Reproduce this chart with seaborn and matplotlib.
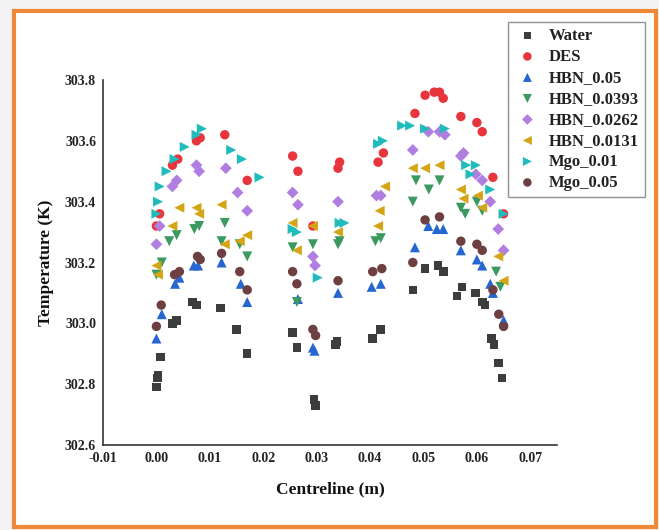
import numpy as np
import pandas as pd
import matplotlib
matplotlib.use("Agg")
import matplotlib.pyplot as plt
import seaborn as sns
from matplotlib.patches import Rectangle

# ---------------- data ----------------
series_names = ["Water", "DES", "HBN_0.05", "HBN_0.0393", "HBN_0.0262",
                "HBN_0.0131", "Mgo_0.01", "Mgo_0.05"]

water_x = [0.0000, 0.0002, 0.0003, 0.0008, 0.0030, 0.0038, 0.0068, 0.0075, 0.0120, 0.0150, 0.0170,
           0.0255, 0.0263, 0.0295, 0.0298, 0.0335, 0.0338, 0.0405, 0.0420,
           0.0480, 0.0503, 0.0527, 0.0537, 0.0563, 0.0572, 0.0597, 0.0610, 0.0615, 0.0627, 0.0632, 0.0640, 0.0647]
water_y = [302.79, 302.82, 302.83, 302.89, 303.00, 303.01, 303.07, 303.06, 303.05, 302.98, 302.90,
           302.97, 302.92, 302.75, 302.73, 302.93, 302.94, 302.95, 302.98,
           303.11, 303.18, 303.19, 303.17, 303.09, 303.12, 303.10, 303.07, 303.06, 302.95, 302.93, 302.87, 302.82]

des_x = [0.0000, 0.0006, 0.0030, 0.0040, 0.0075, 0.0082, 0.0128, 0.0170,
         0.0255, 0.0265, 0.0293, 0.0340, 0.0343, 0.0415, 0.0425,
         0.0484, 0.0503, 0.0520, 0.0530, 0.0537, 0.0570, 0.0600, 0.0610, 0.0630, 0.0650]
des_y = [303.32, 303.36, 303.52, 303.54, 303.60, 303.61, 303.62, 303.47,
         303.55, 303.50, 303.32, 303.51, 303.53, 303.53, 303.56,
         303.69, 303.75, 303.76, 303.76, 303.74, 303.68, 303.66, 303.63, 303.48, 303.36]

hbn005_x = [0.0000, 0.0010, 0.0035, 0.0043, 0.0070, 0.0078, 0.0122, 0.0158, 0.0170,
            0.0265, 0.0293, 0.0296, 0.0340, 0.0403, 0.0420,
            0.0484, 0.0509, 0.0525, 0.0537, 0.0570, 0.0600, 0.0610, 0.0625, 0.0630, 0.0650]
hbn005_y = [302.95, 303.03, 303.13, 303.15, 303.19, 303.19, 303.20, 303.13, 303.07,
            303.08, 302.92, 302.91, 303.10, 303.12, 303.13,
            303.25, 303.32, 303.31, 303.31, 303.24, 303.21, 303.19, 303.13, 303.10, 303.01]

hbn0393_x = [0.0000, 0.0010, 0.0024, 0.0038, 0.0071, 0.0080, 0.0122, 0.0128, 0.0156, 0.0170,
             0.0255, 0.0263, 0.0293, 0.0340, 0.0343, 0.0410, 0.0420,
             0.0480, 0.0486, 0.0510, 0.0530, 0.0570, 0.0578, 0.0600, 0.0610, 0.0636, 0.0644]
hbn0393_y = [303.16, 303.20, 303.27, 303.29, 303.31, 303.32, 303.27, 303.33, 303.26, 303.22,
             303.25, 303.07, 303.26, 303.26, 303.27, 303.27, 303.28,
             303.40, 303.47, 303.44, 303.47, 303.38, 303.36, 303.40, 303.37, 303.17, 303.12]

hbn0262_x = [0.0000, 0.0006, 0.0030, 0.0038, 0.0075, 0.0080, 0.0130, 0.0152, 0.0170,
             0.0255, 0.0265, 0.0293, 0.0297, 0.0340, 0.0412, 0.0420,
             0.0480, 0.0509, 0.0530, 0.0540, 0.0570, 0.0575, 0.0598, 0.0610, 0.0625, 0.0640, 0.0650]
hbn0262_y = [303.26, 303.32, 303.45, 303.47, 303.52, 303.50, 303.51, 303.43, 303.37,
             303.43, 303.39, 303.22, 303.19, 303.40, 303.42, 303.42,
             303.57, 303.63, 303.63, 303.62, 303.55, 303.56, 303.49, 303.47, 303.40, 303.31, 303.24]

hbn0131_x = [0.0000, 0.0003, 0.0030, 0.0043, 0.0075, 0.0080, 0.0122, 0.0128, 0.0156, 0.0170,
             0.0255, 0.0263, 0.0293, 0.0340, 0.0415, 0.0418, 0.0428,
             0.0480, 0.0503, 0.0530, 0.0570, 0.0575, 0.0602, 0.0610, 0.0640, 0.0650]
hbn0131_y = [303.19, 303.16, 303.32, 303.38, 303.38, 303.36, 303.39, 303.26, 303.27, 303.29,
             303.33, 303.24, 303.32, 303.30, 303.32, 303.37, 303.45,
             303.51, 303.51, 303.52, 303.44, 303.41, 303.42, 303.38, 303.22, 303.14]

mgo001_x = [0.0000, 0.0003, 0.0006, 0.0019, 0.0034, 0.0053, 0.0075, 0.0085, 0.0140, 0.0160, 0.0193,
            0.0255, 0.0263, 0.0302, 0.0343, 0.0352, 0.0415, 0.0424,
            0.0460, 0.0475, 0.0503, 0.0540, 0.0580, 0.0588, 0.0598, 0.0625, 0.0650]
mgo001_y = [303.36, 303.40, 303.45, 303.50, 303.54, 303.58, 303.62, 303.64, 303.57, 303.54, 303.48,
            303.31, 303.30, 303.15, 303.33, 303.33, 303.59, 303.60,
            303.65, 303.65, 303.64, 303.64, 303.52, 303.49, 303.52, 303.44, 303.36]

mgo005_x = [0.0000, 0.0009, 0.0034, 0.0043, 0.0077, 0.0082, 0.0122, 0.0156, 0.0170,
            0.0255, 0.0263, 0.0293, 0.0298, 0.0340, 0.0405, 0.0422,
            0.0480, 0.0503, 0.0530, 0.0570, 0.0600, 0.0610, 0.0630, 0.0641, 0.0650]
mgo005_y = [302.99, 303.06, 303.16, 303.17, 303.22, 303.21, 303.23, 303.17, 303.11,
            303.17, 303.13, 302.98, 302.96, 303.14, 303.17, 303.18,
            303.20, 303.34, 303.35, 303.27, 303.26, 303.24, 303.11, 303.03, 302.99]

x_ticks = [-0.01, 0.00, 0.01, 0.02, 0.03, 0.04, 0.05, 0.06, 0.07]
y_ticks = [302.6, 302.8, 303.0, 303.2, 303.4, 303.6, 303.8]

xs = [water_x, des_x, hbn005_x, hbn0393_x, hbn0262_x, hbn0131_x, mgo001_x, mgo005_x]
ys = [water_y, des_y, hbn005_y, hbn0393_y, hbn0262_y, hbn0131_y, mgo001_y, mgo005_y]

frames = []
for name, x, y in zip(series_names, xs, ys):
    frames.append(pd.DataFrame({"x": x, "y": y, "Series": name}))
df = pd.concat(frames, ignore_index=True)

palette = {"Water": "#3d3d3d", "DES": "#e8343c", "HBN_0.05": "#2566d0",
           "HBN_0.0393": "#3c9a60", "HBN_0.0262": "#b07ee0", "HBN_0.0131": "#d4a516",
           "Mgo_0.01": "#20bcbc", "Mgo_0.05": "#6e3f40"}
markers = {"Water": "s", "DES": "o", "HBN_0.05": "^", "HBN_0.0393": "v",
           "HBN_0.0262": "D", "HBN_0.0131": "<", "Mgo_0.01": ">", "Mgo_0.05": "o"}
sizes_pt = {"Water": 38, "DES": 46, "HBN_0.05": 52, "HBN_0.0393": 52,
            "HBN_0.0262": 36, "HBN_0.0131": 52, "Mgo_0.01": 52, "Mgo_0.05": 46}

# ---------------- figure ----------------
sns.set_theme(style="white")
plt.rcParams["font.family"] = ["Liberation Serif", "DejaVu Serif"]
plt.rcParams["font.weight"] = "bold"

W, H = 659, 530
fig = plt.figure(figsize=(W / 100, H / 100), dpi=100, facecolor="#f3f3f3")

bg = fig.add_axes([0, 0, 1, 1], zorder=-5)
bg.set_xlim(0, W)
bg.set_ylim(H, 0)
bg.axis("off")
bg.add_patch(Rectangle((14, 11), 656 - 14, 527 - 11, facecolor="white",
                       edgecolor="#f0883a", linewidth=3.0))

ax = fig.add_axes([103 / W, 1 - 445 / H, (557 - 103) / W, (445 - 80) / H], zorder=2)
ax.set_facecolor("none")

for name in series_names:
    sub = df[df["Series"] == name]
    sns.scatterplot(data=sub, x="x", y="y", ax=ax, color=palette[name],
                    marker=markers[name], s=sizes_pt[name], linewidth=0,
                    edgecolor="none", label=name, zorder=3)

ax.set_xlim(-0.01, 0.075)
ax.set_ylim(302.6, 303.8)
ax.set_xticks(x_ticks)
ax.set_xticklabels([f"{v:.2f}" for v in x_ticks])
ax.set_yticks(y_ticks)
ax.set_yticklabels([f"{v:.1f}" for v in y_ticks])
ax.tick_params(axis="both", direction="in", length=4, width=1, labelsize=10,
               colors="#222222", pad=5)
for lab in ax.get_xticklabels() + ax.get_yticklabels():
    lab.set_fontweight("bold")

for sp in ["top", "right"]:
    ax.spines[sp].set_visible(False)
for sp in ["left", "bottom"]:
    ax.spines[sp].set_color("#333333")
    ax.spines[sp].set_linewidth(1.2)

ax.set_xlabel("Centreline (m)", fontsize=12.5, fontweight="bold", color="#111111", labelpad=12)
ax.set_ylabel("Temperature (K)", fontsize=12.5, fontweight="bold", color="#111111", labelpad=8)

leg = ax.legend(loc="upper right", bbox_to_anchor=(645 / W, 1 - 22 / H),
                bbox_transform=fig.transFigure, frameon=True, fancybox=False,
                borderaxespad=0, fontsize=12, labelspacing=0.30, handletextpad=0.5,
                borderpad=0.35, markerscale=0.9, handlelength=1.6)
leg.get_frame().set_edgecolor("#777777")
leg.get_frame().set_linewidth(1.0)
for t in leg.get_texts():
    t.set_fontweight("bold")
    t.set_color("#222222")

fig.savefig("out.png", dpi=100, facecolor=fig.get_facecolor())
